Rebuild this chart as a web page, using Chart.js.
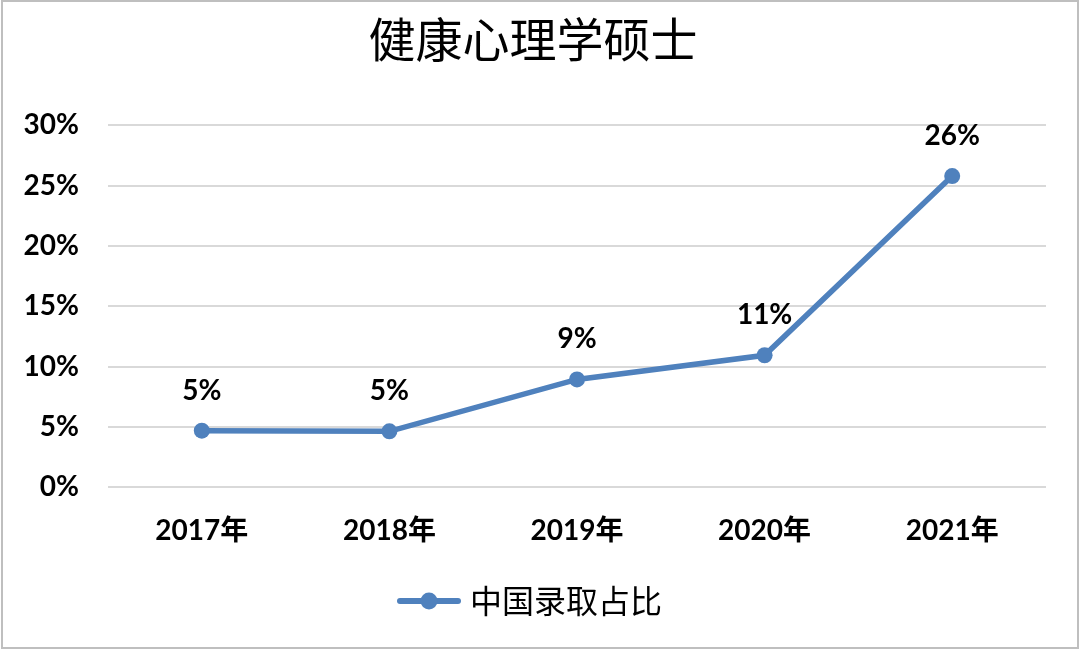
<!DOCTYPE html>
<html>
<head>
<meta charset="utf-8">
<script src="https://cdn.jsdelivr.net/npm/chart.js@4/dist/chart.umd.min.js"></script>
<style>
  html, body { margin: 0; padding: 0; background: #fff; }
  #wrap { width: 1080px; height: 649px; position: relative; }
</style>
</head>
<body>
<div id="wrap"><canvas id="c" width="1080" height="649"></canvas></div>
<script>
const chartTitle = '健康心理学硕士';
const categories = ['2017年', '2018年', '2019年', '2020年', '2021年'];
const seriesName = '中国录取占比';
const seriesValues = [4.7, 4.65, 8.95, 10.95, 25.8];
const yTicks = [0, 5, 10, 15, 20, 25, 30];

const BLUE = '#4f81bd';
const LATIN = 'Lato, "Noto Sans CJK SC", sans-serif';
const CJK = '"Noto Sans CJK SC", sans-serif';

// legend symbol: line with a dot
const sym = document.createElement('canvas');
sym.width = 64; sym.height = 20;
(function(){
  const g = sym.getContext('2d');
  g.strokeStyle = BLUE; g.lineWidth = 6; g.lineCap = 'round';
  g.beginPath(); g.moveTo(3, 10); g.lineTo(61, 10); g.stroke();
  g.fillStyle = BLUE; g.beginPath(); g.arc(32, 10, 8.5, 0, Math.PI * 2); g.fill();
})();

const labelPlugin = {
  id: 'valueLabels',
  afterDatasetsDraw(chart) {
    const ctx = chart.ctx;
    const meta = chart.getDatasetMeta(0);
    ctx.save();
    ctx.font = 'bold 28px ' + LATIN;
    ctx.fillStyle = '#000';
    ctx.textAlign = 'center';
    ctx.textBaseline = 'middle';
    meta.data.forEach((pt, i) => {
      ctx.fillText(Math.round(seriesValues[i]) + '%', pt.x, pt.y - 40);
    });
    ctx.restore();
  }
};

const borderPlugin = {
  id: 'frame',
  afterDraw(chart) {
    const ctx = chart.ctx;
    ctx.save();
    ctx.strokeStyle = '#bfbfbf';
    ctx.lineWidth = 2;
    ctx.strokeRect(2, 1, chart.width - 4, chart.height - 2);
    ctx.restore();
  }
};

new Chart(document.getElementById('c'), {
  type: 'line',
  data: {
    labels: categories,
    datasets: [{
      label: seriesName,
      data: seriesValues,
      borderColor: BLUE,
      backgroundColor: BLUE,
      borderWidth: 5.5,
      pointRadius: 8,
      pointHoverRadius: 8,
      pointBackgroundColor: BLUE,
      pointBorderWidth: 0,
      tension: 0,
      pointStyle: 'circle'
    }]
  },
  options: {
    responsive: false,
    animation: false,
    devicePixelRatio: 1,
    layout: { padding: { left: 20, right: 34, top: 0, bottom: 22 } },
    plugins: {
      title: {
        display: true,
        text: chartTitle,
        color: '#000',
        font: { family: CJK, size: 47, weight: 'normal' },
        padding: { top: 11, bottom: 58 }
      },
      legend: {
        display: true,
        position: 'bottom',
        labels: {
          color: '#000',
          font: { family: CJK, size: 32, weight: 'normal' },
          usePointStyle: true,
          pointStyleWidth: 50,
          padding: 10,
          generateLabels(chart) {
            return [{
              text: seriesName,
              pointStyle: sym,
              fillStyle: BLUE,
              strokeStyle: BLUE,
              lineWidth: 0,
              hidden: false,
              datasetIndex: 0,
              fontColor: '#000'
            }];
          }
        }
      },
      tooltip: { enabled: false }
    },
    scales: {
      x: {
        offset: true,
        grid: { display: false, drawTicks: false },
        border: { display: false },
        ticks: {
          color: '#000',
          font: { family: LATIN, size: 28, weight: 'bold' },
          padding: 27
        }
      },
      y: {
        min: 0,
        max: 30,
        afterFit(scale) { scale.width = 88; },
        afterBuildTicks(scale) { scale.ticks = yTicks.map(v => ({ value: v })); },
        grid: { color: '#d9d9d9', lineWidth: 2, drawTicks: false },
        border: { display: false },
        ticks: {
          color: '#000',
          font: { family: LATIN, size: 28, weight: 'bold' },
          padding: 29,
          callback: v => v + '%'
        }
      }
    }
  },
  plugins: [labelPlugin, borderPlugin]
});
</script>
</body>
</html>
